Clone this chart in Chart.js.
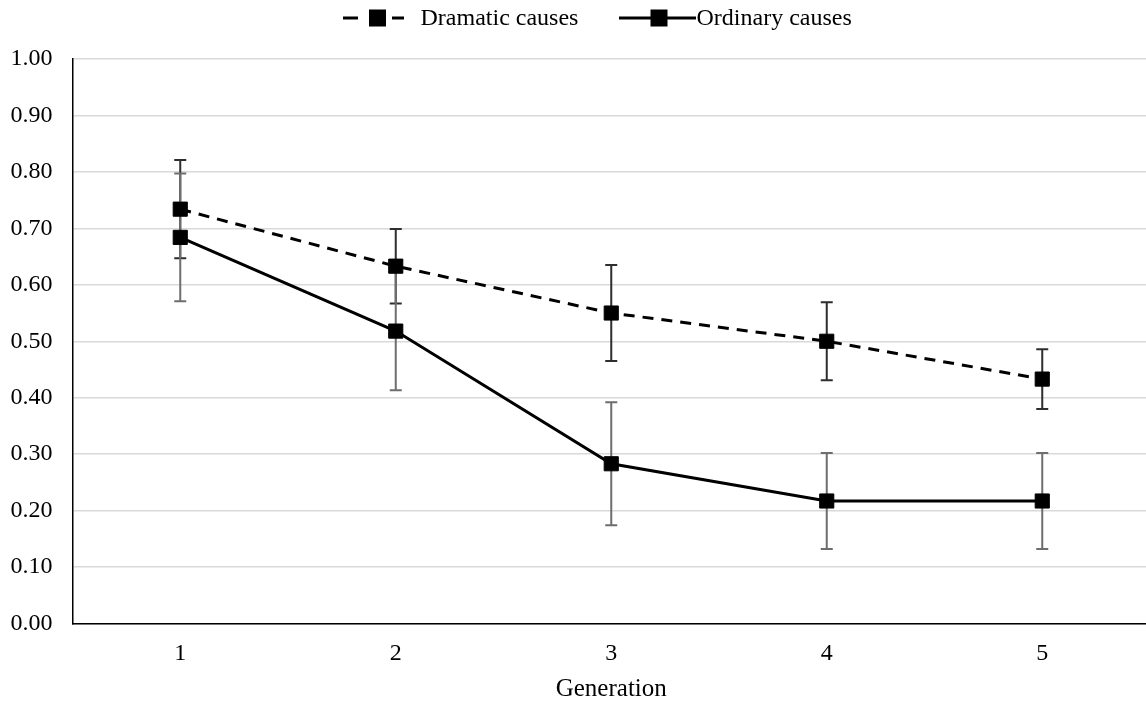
<!DOCTYPE html>
<html>
<head>
<meta charset="utf-8">
<script src="https://cdn.jsdelivr.net/npm/chart.js@4/dist/chart.umd.min.js"></script>
<style>
  html, body { margin: 0; padding: 0; background: #fff; overflow: hidden; }
  canvas { display: block; }
</style>
</head>
<body>
<canvas id="c" width="1150" height="702" style="width:1150px;height:702px"></canvas>
<script>
const generations = ['1', '2', '3', '4', '5'];
const dramaticMeans  = [0.734, 0.633, 0.550, 0.500, 0.433];
const dramaticErrors = [0.087, 0.066, 0.085, 0.069, 0.053];
const ordinaryMeans  = [0.684, 0.518, 0.283, 0.217, 0.217];
const ordinaryErrors = [0.113, 0.105, 0.109, 0.085, 0.085];
const yTicks = [0, 0.1, 0.2, 0.3, 0.4, 0.5, 0.6, 0.7, 0.8, 0.9, 1.0];
const seriesNames = ['Dramatic causes', 'Ordinary causes'];

const FONT = '"Liberation Serif", "Times New Roman", serif';

const errorBarPlugin = {
  id: 'errorBars',
  beforeDatasetsDraw(chart) {
    const { ctx, scales: { x, y } } = chart;
    chart.data.datasets.forEach((ds) => {
      ctx.save();
      ctx.strokeStyle = ds.errorColor;
      ctx.lineWidth = 2;
      ctx.setLineDash([]);
      ds.errors.forEach((e, j) => {
        const px = x.getPixelForValue(j);
        const top = y.getPixelForValue(ds.data[j] + e);
        const bot = y.getPixelForValue(ds.data[j] - e);
        ctx.beginPath();
        ctx.moveTo(px, top); ctx.lineTo(px, bot);
        ctx.moveTo(px - 6, top); ctx.lineTo(px + 6, top);
        ctx.moveTo(px - 6, bot); ctx.lineTo(px + 6, bot);
        ctx.stroke();
      });
      ctx.restore();
    });
  }
};

const legendPlugin = {
  id: 'customLegend',
  afterDraw(chart) {
    const { ctx } = chart;
    ctx.save();
    ctx.font = '24px ' + FONT;
    ctx.fillStyle = '#000';
    ctx.strokeStyle = '#000';
    ctx.lineWidth = 3;
    ctx.textBaseline = 'middle';
    ctx.textAlign = 'left';
    const cy = 18;
    const sq = 17;
    const x0 = 343;
    ctx.beginPath();
    ctx.moveTo(x0, cy); ctx.lineTo(x0 + 15, cy);
    ctx.moveTo(x0 + 49, cy); ctx.lineTo(x0 + 61, cy);
    ctx.stroke();
    ctx.fillRect(x0 + 34.5 - sq / 2, cy - sq / 2, sq, sq);
    ctx.fillText(seriesNames[0], x0 + 77.5, cy + 1);
    const x1 = 619;
    ctx.beginPath();
    ctx.moveTo(x1, cy); ctx.lineTo(x1 + 77, cy);
    ctx.stroke();
    ctx.fillRect(x1 + 40 - sq / 2, cy - sq / 2, sq, sq);
    ctx.fillText(seriesNames[1], x1 + 77.5, cy + 1);
    ctx.restore();
  }
};

new Chart(document.getElementById('c'), {
  type: 'line',
  data: {
    labels: generations,
    datasets: [
      {
        label: seriesNames[0],
        data: dramaticMeans,
        errors: dramaticErrors,
        errorColor: '#2e2e2e',
        borderColor: '#000',
        backgroundColor: '#000',
        borderWidth: 3,
        borderDash: [11, 8],
        pointStyle: 'rect',
        pointRadius: 10,
        pointBorderWidth: 1,
        pointHoverRadius: 10,
        tension: 0
      },
      {
        label: seriesNames[1],
        data: ordinaryMeans,
        errors: ordinaryErrors,
        errorColor: '#6e6e6e',
        borderColor: '#000',
        backgroundColor: '#000',
        borderWidth: 3,
        pointStyle: 'rect',
        pointRadius: 10,
        pointBorderWidth: 1,
        pointHoverRadius: 10,
        tension: 0
      }
    ]
  },
  options: {
    responsive: false,
    animation: false,
    events: [],
    layout: { autoPadding: false, padding: { top: 59, left: 0, right: 0, bottom: 0 } },
    plugins: {
      legend: { display: false },
      tooltip: { enabled: false }
    },
    scales: {
      x: {
        offset: true,
        afterFit(axis) { axis.height = 78.5; axis.paddingLeft = 0; axis.paddingRight = 0; },
        grid: { display: false, drawTicks: false },
        border: { color: '#000', width: 1.5 },
        ticks: { color: '#000', font: { family: FONT, size: 24 }, padding: 16 },
        title: { display: true, text: 'Generation', color: '#000', font: { family: FONT, size: 25, lineHeight: 1.0 }, padding: { top: 0, bottom: 0 } }
      },
      y: {
        min: 0,
        max: 1,
        afterFit(axis) { axis.width = 72.5; axis.paddingTop = 0; axis.paddingBottom = 0; },
        afterBuildTicks(axis) { axis.ticks = yTicks.map(v => ({ value: v })); },
        grid: { color: '#d9d9d9', lineWidth: 1.5, drawTicks: false },
        border: { color: '#000', width: 1.5 },
        ticks: { color: '#000', font: { family: FONT, size: 24 }, padding: 20, callback: v => Number(v).toFixed(2) }
      }
    }
  },
  plugins: [errorBarPlugin, legendPlugin]
});
</script>
</body>
</html>
